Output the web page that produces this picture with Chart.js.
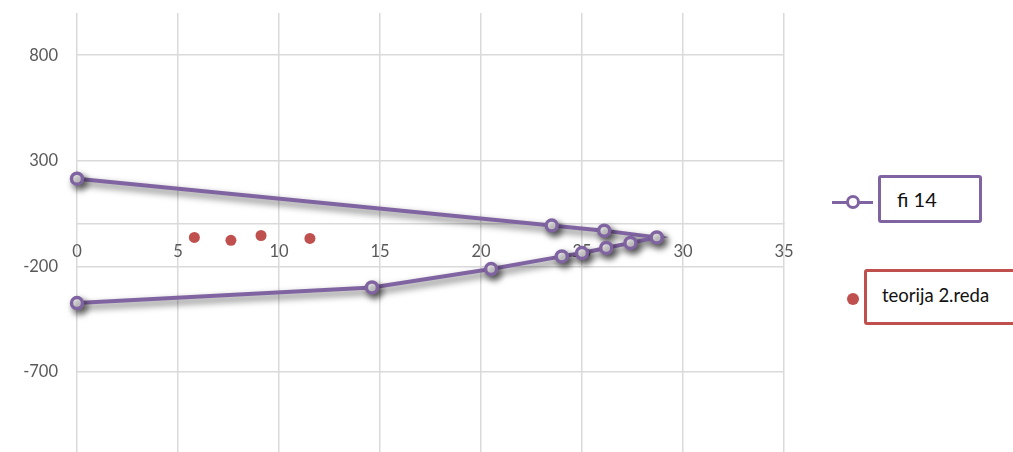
<!DOCTYPE html>
<html>
<head>
<meta charset="utf-8">
<script src="https://cdn.jsdelivr.net/npm/chart.js@4.4.0/dist/chart.umd.min.js"></script>
<style>
  html, body { margin: 0; padding: 0; width: 1013px; height: 452px; overflow: hidden; background: #fff; }
  #wrap { position: relative; width: 1013px; height: 490px; }
  .legend-box { position: absolute; background: #fff; box-sizing: border-box; border-radius: 3px;
    font-family: Lato, "Open Sans", sans-serif; color: #111; }
  #leg-fi { left: 878px; top: 175px; width: 104px; height: 48px; border: 3px solid #8064A2; font-size: 20px; }
  #leg-fi span { position: absolute; left: 16px; top: 9px; }
  #leg-teo { left: 864px; top: 269px; width: 170px; height: 56px; border: 3.5px solid #C0504D; font-size: 18.5px; }
  #leg-teo span { position: absolute; left: 15px; top: 12px; }
  .leg-line { position: absolute; left: 832px; top: 200.5px; width: 41px; height: 3px; background: #8064A2; }
  .leg-ring { position: absolute; left: 846px; top: 195px; width: 8px; height: 8px; border: 3px solid #8064A2;
    border-radius: 50%; background: #fff; }
  .leg-dot { position: absolute; left: 846.5px; top: 292.5px; width: 12px; height: 12px; border-radius: 50%; background: #C0504D; }
</style>
</head>
<body>
<div id="wrap">
  <canvas id="chart" width="1013" height="490"></canvas>
  <div class="leg-line"></div>
  <div class="leg-ring"></div>
  <div class="legend-box" id="leg-fi"><span>fi 14</span></div>
  <div class="leg-dot"></div>
  <div class="legend-box" id="leg-teo"><span>teorija 2.reda</span></div>
</div>
<script>
const fiX = [0, 23.5, 26.1, 28.7, 27.4, 26.2, 25.0, 24.0, 20.5, 14.6, 0];
const fiY = [215, -7, -31, -63, -89, -113, -137, -153, -213, -300, -374];

const teoX = [5.81, 7.62, 9.11, 11.53];
const teoY = [-63, -77, -54, -68];

const yTicks = [-1200, -700, -200, 300, 800];

const purple = '#8064A2';
const red = '#C0504D';
const gridColor = '#DADADA';

function toPoints(xs, ys) {
    return xs.map((x, i) => ({ x: x, y: ys[i] }));
}

// soft drop shadow under the fi 14 line and its markers
const lineShadow = {
    id: 'lineShadow',
    beforeDatasetDraw(chart, args) {
        if (args.index !== 0) return;
        const ctx = chart.ctx;
        ctx.save();
        ctx.shadowColor = 'rgba(0, 0, 0, 0.6)';
        ctx.shadowBlur = 7;
        ctx.shadowOffsetX = 3;
        ctx.shadowOffsetY = 4;
    },
    afterDatasetDraw(chart, args) {
        if (args.index !== 0) return;
        chart.ctx.restore();
    }
};

new Chart(document.getElementById('chart'), {
    type: 'scatter',
    data: {
        datasets: [{
            label: 'fi 14',
            data: toPoints(fiX, fiY),
            showLine: true,
            borderColor: purple,
            borderWidth: 4,
            tension: 0,
            pointRadius: 5.5,
            pointBorderWidth: 3.5,
            pointBackgroundColor: '#fff',
            pointBorderColor: purple,
            clip: false
        }, {
            label: 'teorija 2.reda',
            data: toPoints(teoX, teoY),
            showLine: false,
            pointRadius: 5.5,
            pointBorderWidth: 0,
            pointBackgroundColor: red,
            pointBorderColor: red,
            clip: false
        }]
    },
    options: {
        responsive: false,
        animation: false,
        events: [],
        layout: { padding: { left: 0, right: 229, top: 13, bottom: 12.6 } },
        plugins: { legend: { display: false }, tooltip: { enabled: false } },
        scales: {
            x: {
                type: 'linear',
                position: { y: 0 },
                min: 0,
                max: 35,
                afterFit: scale => {
                    scale.height = 0;
                },
                ticks: {
                    stepSize: 5,
                    padding: 18,
                    color: '#595959',
                    font: { family: 'Lato', size: 16.5 }
                },
                grid: { color: gridColor, lineWidth: 1.5, drawTicks: false },
                border: { color: gridColor, width: 1.5 }
            },
            y: {
                type: 'linear',
                min: -1200,
                max: 1000,
                afterBuildTicks: scale => {
                    scale.ticks = yTicks.map(v => ({ value: v }));
                },
                // fixed label column; the outer tick labels never sit at the plot edges
                afterFit: scale => {
                    scale.width = 77;
                    scale.paddingTop = 0;
                    scale.paddingBottom = 0;
                },
                ticks: {
                    padding: 19,
                    color: '#595959',
                    font: { family: 'Lato', size: 16.5 }
                },
                grid: { color: gridColor, lineWidth: 1.5, drawTicks: false },
                border: { display: false }
            }
        }
    },
    plugins: [lineShadow]
});
</script>
</body>
</html>
